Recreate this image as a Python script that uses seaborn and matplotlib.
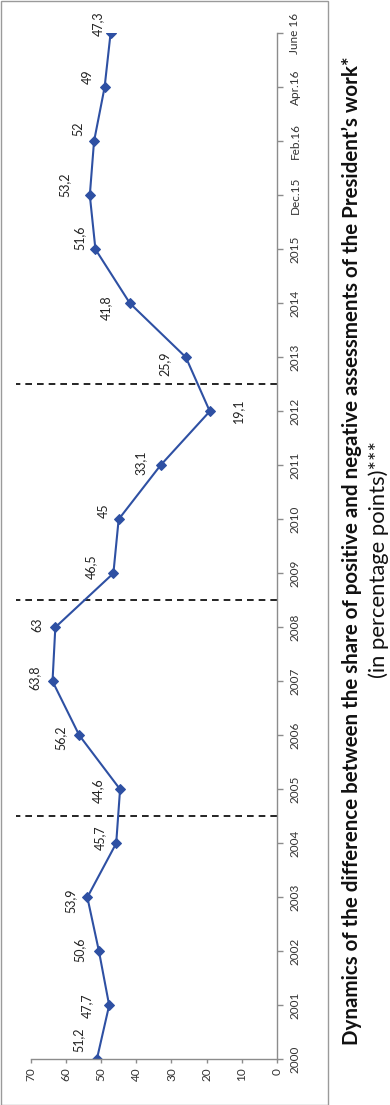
import numpy as np
import pandas as pd
import matplotlib
matplotlib.use("Agg")
import matplotlib.pyplot as plt
import seaborn as sns
from matplotlib.patches import Rectangle

periods = ["2000", "2001", "2002", "2003", "2004", "2005", "2006", "2007",
           "2008", "2009", "2010", "2011", "2012", "2013", "2014", "2015",
           "Dec.15", "Feb.16", "Apr.16", "June 16"]
values = [51.2, 47.7, 50.6, 53.9, 45.7, 44.6, 56.2, 63.8, 63.0, 46.5,
          45.0, 33.1, 19.1, 25.9, 41.8, 51.6, 53.2, 52.0, 49.0, 47.3]
value_ticks = [0, 10, 20, 30, 40, 50, 60, 70]
# dashed separators between presidential terms (between categories)
breaks = [4.5, 8.5, 12.5]

title_main = ("Dynamics of the difference between the share of positive and "
              "negative assessments of the President\u2019s work*")
title_sub = "(in percentage points)***"

# label offsets in pixels (dx, dy in image coords) as placed in the original
label_offsets = [(-18, -20), (-22, 0), (-19, -2), (-17, 3), (-16, -6),
                 (-22, 1), (-19, 2), (-18, -4), (-18, -3), (-22, -7),
                 (-15, -9), (-20, -3), (28, -1), (-21, 6), (-24, 4),
                 (-16, -12), (-25, -11), (-16, -13), (-17, -11), (-13, -10)]

sns.set_style("white")
plt.rcParams["font.family"] = ["Lato", "DejaVu Sans"]

df = pd.DataFrame({"pos": np.arange(len(periods)), "value": values})

W, H = 390, 1105
fig = plt.figure(figsize=(W / 100, H / 100), dpi=100)
ax = fig.add_axes([30.7 / W, (H - 1059.3) / H,
                   (277 - 30.7) / W, (1059.3 - 33.3) / H])

line_color = "#2E50A3"
sns.lineplot(data=df, x="value", y="pos", orient="y", ax=ax,
             color=line_color, linewidth=1.5, marker="D", markersize=5.5,
             markeredgecolor=line_color, markerfacecolor=line_color)

for b in breaks:
    ax.plot([0, 74.2], [b, b], color="black", linewidth=1.2,
            linestyle=(0, (4, 3)), clip_on=False, zorder=1)

for i, (v, (dx, dy)) in enumerate(zip(values, label_offsets)):
    lab = f"{v:g}".replace(".", ",")
    ax.annotate(lab, (v, i), xytext=(dx * 0.72, -dy * 0.72),
                textcoords="offset points", rotation=90,
                ha="center", va="center", fontsize=9, color="#222222")

ax.set_xlim(70, 0)
ax.set_ylim(0, len(periods) - 1)
ax.set_xticks(value_ticks)
ax.set_xticklabels([str(t) for t in value_ticks], rotation=90, fontsize=8.5,
                   color="#333333")
ax.set_yticks(np.arange(len(periods)))
ax.set_yticklabels(periods, rotation=90, va="center", fontsize=8.5,
                   color="#333333")
ax.yaxis.tick_right()
ax.set_xlabel("")
ax.set_ylabel("")

for side in ["left", "top"]:
    ax.spines[side].set_visible(False)
for side in ["right", "bottom"]:
    ax.spines[side].set_color("#8C8C8C")
    ax.spines[side].set_linewidth(1.0)
ax.tick_params(axis="y", which="both", right=True, length=4, width=1,
               color="#8C8C8C", pad=5)
ax.tick_params(axis="x", which="both", bottom=True, length=3, width=1,
               color="#8C8C8C", pad=3)

fig.patches.append(Rectangle((0.5 / W, 0.5 / H), 327 / W, 1103.5 / H,
                             transform=fig.transFigure, fill=False,
                             edgecolor="#9A9A9A", linewidth=1.0))

t1 = fig.text(352 / W, (H - 551) / H, title_main, rotation=90,
              ha="center", va="center", fontsize=13, fontweight="bold",
              color="#111111")
t2 = fig.text(379 / W, (H - 559) / H, title_sub, rotation=90,
              ha="center", va="center", fontsize=13, color="#111111")

# fit the title lengths to the original (988 px and 235 px)
fig.canvas.draw()
r = fig.canvas.get_renderer()
for t, target in [(t1, 988), (t2, 235)]:
    h = t.get_window_extent(r).height
    t.set_fontsize(t.get_fontsize() * target / h)

fig.savefig("out.png", dpi=100)
